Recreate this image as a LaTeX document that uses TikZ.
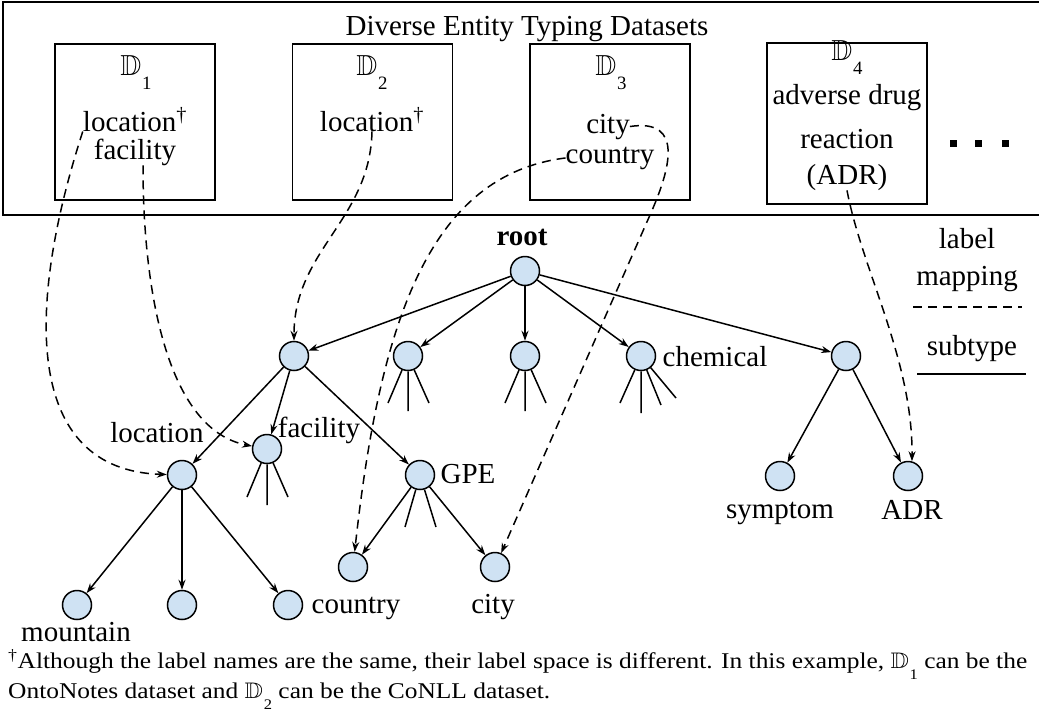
\documentclass[tikz,border=0pt]{standalone}
\usepackage{amssymb}
\usepackage{graphicx}
\usepackage{fontspec}
\setmainfont{Liberation Serif}
\usetikzlibrary{arrows.meta}
\definecolor{nodefill}{HTML}{CFE2F3}
% dataset symbol with a deeply lowered index
\newcommand\dset[1]{\ensuremath{\mathbb{D}}\kern0.03em\raisebox{-0.5em}{\scalebox{0.65}{#1}}}
\newcommand\dg{\textsuperscript{\textdagger}}
\tikzset{
  tnode/.style={circle, draw, fill=nodefill, minimum size=29pt, inner sep=0pt, line width=1.5pt},
  txt/.style={inner sep=0pt},
  btxt/.style={inner sep=0pt, anchor=base},
  dsbox/.style={draw, minimum width=160pt, minimum height=156pt, line width=1.5pt},
  frame/.style={line width=1.6pt},
  subarrow/.style={line width=1.5pt, -{Stealth[length=10pt,width=7pt]}},
  leafstub/.style={line width=1.5pt},
  dashpat/.style={line width=1.5pt, dash pattern=on 9pt off 6pt},
  maparrow/.style={dashpat, -{Stealth[length=10pt,width=7pt]}},
  fnote/.style={inner sep=0pt, anchor=base west, font=\fontsize{22.5}{26}\selectfont},
}
\begin{document}
\begin{tikzpicture}[x=1pt, y=-1pt, font=\fontsize{29}{34}\selectfont]
\useasboundingbox (0,0) rectangle (1039,723);

% dataset panel
\draw[frame] (1039,2) -- (3,2) -- (3,215) -- (1039,215);
\node[btxt] (title) at (527,35) {Diverse Entity Typing Datasets};

\node[dsbox] (b1) at (135,122) {};
\node[dsbox] (b2) at (372.5,122) {};
\node[dsbox] (b3) at (610,122) {};
\node[dsbox, minimum height=161pt] (b4) at (847,123.5) {};

\node[btxt] (d1) at (136,75) {\dset{1}};
\node[btxt] (l1) at (135,131) {location\dg};
\node[btxt] (f1) at (135,159) {facility};

\node[btxt] (d2) at (372,75) {\dset{2}};
\node[btxt] (l2) at (372,131) {location\dg};

\node[btxt] (d3) at (611,75) {\dset{3}};
\node[btxt] (c3) at (608,133) {city};
\node[btxt] (co3) at (610,163) {country};

\node[btxt] (d4) at (847,60) {\dset{4}};
\node[btxt] (a4) at (847,104) {adverse drug};
\node[btxt] (r4) at (847,148) {reaction};
\node[btxt] (adr) at (847,184) {(ADR)};

\foreach \x in {953.5,978.5,1005.5}
  \fill (\x-3.5,139.5) rectangle ++(7,7);

% type hierarchy
\node[tnode] (root) at (525,271) {};
\node[btxt, font=\fontsize{29}{34}\selectfont\bfseries] (rootlab) at (522,245) {root};

\node[tnode] (nA) at (294,356) {};
\node[tnode] (nB) at (408,356) {};
\node[tnode] (nC) at (525,356) {};
\node[tnode] (nchem) at (641,356) {};
\node[tnode] (nE) at (846,356) {};

\node[tnode] (nloc) at (182,475) {};
\node[tnode] (nfac) at (267,449) {};
\node[tnode] (ngpe) at (420,475) {};
\node[tnode] (ncountry) at (353,567) {};
\node[tnode] (ncity) at (495,567) {};
\node[tnode] (nm1) at (77,605) {};
\node[tnode] (nm2) at (182,605) {};
\node[tnode] (nm3) at (288,605) {};
\node[tnode] (nsym) at (780,476) {};
\node[tnode] (nadr) at (908,476) {};

\node[btxt] at (715,366) {chemical};
\node[btxt] at (157,442) {location};
\node[btxt] at (319,437) {facility};
\node[btxt] at (468,483) {GPE};
\node[btxt] at (356,613) {country};
\node[btxt] at (493,613) {city};
\node[btxt] at (76,641) {mountain};
\node[btxt] at (780,518) {symptom};
\node[btxt] at (912,519) {ADR};

% subtype edges
\foreach \t in {nA,nB,nC,nchem,nE} \draw[subarrow] (root) -- (\t);
\foreach \t in {nloc,nfac,ngpe} \draw[subarrow] (nA) -- (\t);
\foreach \t in {nm1,nm2,nm3} \draw[subarrow] (nloc) -- (\t);
\foreach \t in {ncountry,ncity} \draw[subarrow] (ngpe) -- (\t);
\foreach \t in {nsym,nadr} \draw[subarrow] (nE) -- (\t);

% collapsed subtrees
\draw[leafstub] (nB) -- (388,403) (nB) -- (408,411) (nB) -- (429,403);
\draw[leafstub] (nC) -- (505,403) (nC) -- (525,411) (nC) -- (546,403);
\draw[leafstub] (nchem) -- (620,403) (nchem) -- (641,413) (nchem) -- (661,405) (nchem) -- (676,398);
\draw[leafstub] (nfac) -- (247,497) (nfac) -- (267,505) (nfac) -- (288,497);
\draw[leafstub] (ngpe) -- (405,527) (ngpe) -- (436,527);

% label mappings
\coordinate (bend3) at (650,215);
\draw[maparrow] (l1.south west) .. controls (25,310) and (25,470) .. (nloc);
\draw[maparrow] ([xshift=8pt]f1.south) .. controls (143,300) and (170,430) .. (nfac);
\draw[maparrow] (l2.south) .. controls (370,220) and (294,250) .. (nA);
\draw[maparrow] (co3.west) .. controls (430,175) and (380,320) .. (ncountry);
\draw[maparrow] (c3.east) .. controls (685,118) and (670,170) .. (bend3) -- (ncity);
\draw[maparrow] (adr.south) .. controls (862,270) and (913,360) .. (nadr.75);

% legend
\node[btxt] at (967,248) {label};
\node[btxt] at (967,285) {mapping};
\draw[dashpat] (913,307) -- (1022,307);
\node[btxt] at (972,355) {subtype};
\draw[line width=1.5pt] (917,374) -- (1026,374);

% footnote
\node[fnote] (fn1) at (8,668)
  {\scalebox{1.13}[1]{\dg Although the label names are the same, their label space is different. In this example, \dset{1}\ can be the}};
\node[fnote] (fn2) at (8,698)
  {\scalebox{1.13}[1]{OntoNotes dataset and \dset{2} can be the CoNLL dataset.}};
\end{tikzpicture}
\end{document}
